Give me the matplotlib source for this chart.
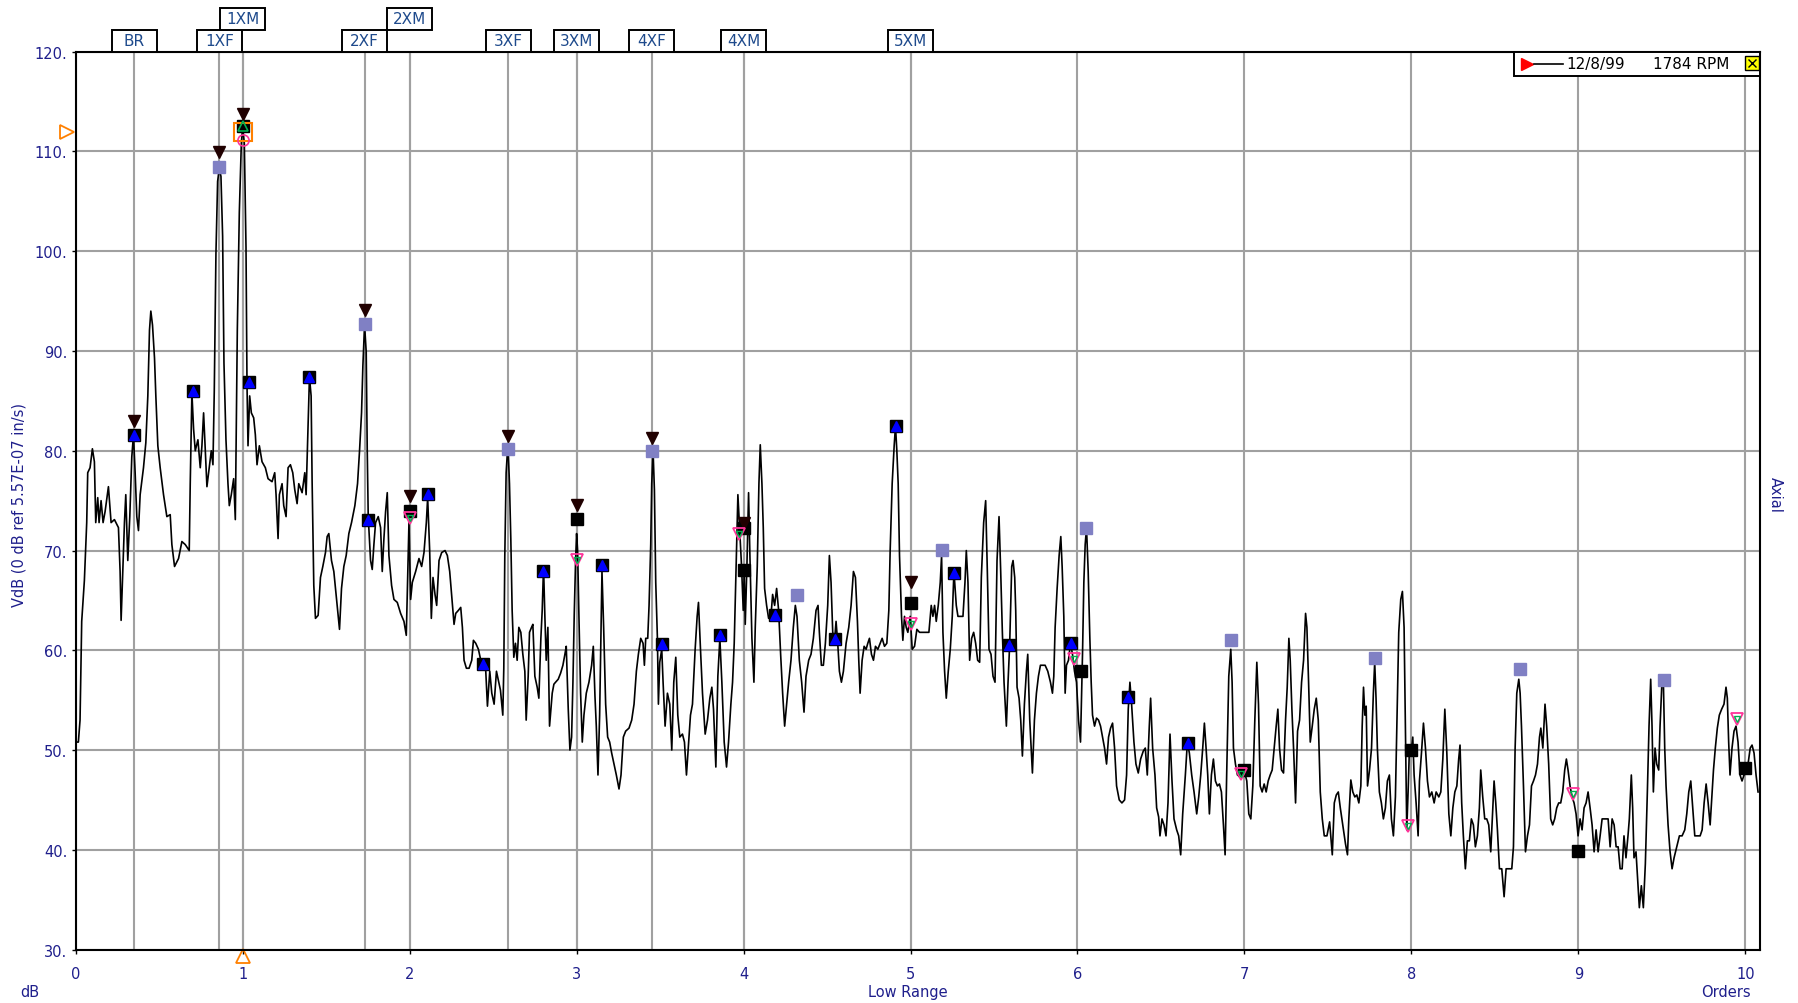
import matplotlib.pyplot as plt
import matplotlib.transforms as mtransforms
from matplotlib.patches import Rectangle

plt.rcParams['font.family'] = ['DejaVu Sans']

# spectrum trace (order, VdB) in four pieces
seg_a = [(0.000, 50.8), (0.016, 50.8), (0.026, 53.0), (0.036, 62.9), (0.052, 67.0), (0.066, 72.8), (0.072, 77.8),
         (0.086, 78.3), (0.100, 80.2), (0.112, 78.9), (0.120, 72.8), (0.132, 75.3), (0.140, 72.8), (0.152, 75.0),
         (0.164, 72.8), (0.176, 73.9), (0.196, 76.4), (0.212, 72.8), (0.232, 73.1), (0.256, 72.3), (0.266, 67.9),
         (0.272, 63.0), (0.282, 67.9), (0.292, 72.8), (0.300, 75.6), (0.312, 69.0), (0.324, 73.4), (0.336, 79.4),
         (0.346, 81.6), (0.356, 77.8), (0.366, 73.4), (0.376, 72.0), (0.386, 75.6), (0.406, 78.3), (0.420, 80.8),
         (0.432, 85.5), (0.442, 92.1), (0.450, 94.0), (0.460, 92.6), (0.472, 89.3), (0.480, 85.5), (0.492, 80.5),
         (0.506, 78.3), (0.526, 75.6), (0.546, 73.4), (0.566, 73.6), (0.576, 70.6), (0.592, 68.4), (0.616, 69.2),
         (0.636, 70.9), (0.656, 70.6), (0.680, 70.0), (0.686, 76.7), (0.696, 85.8), (0.706, 82.2), (0.716, 80.0),
         (0.732, 81.1), (0.746, 78.3), (0.756, 80.5), (0.766, 83.8), (0.776, 80.0), (0.786, 76.4), (0.800, 78.3),
         (0.812, 80.0), (0.822, 78.6), (0.830, 86.0), (0.840, 99.8), (0.850, 107.0), (0.860, 108.3), (0.870, 107.5),
         (0.880, 101.5), (0.888, 88.8), (0.900, 81.1), (0.912, 76.7), (0.920, 74.5), (0.932, 75.6), (0.946, 77.2),
         (0.956, 73.1), (0.968, 92.1), (0.980, 103.9), (0.992, 110.8), (1.000, 112.5), (1.010, 110.8), (1.020, 100.4),
         (1.026, 86.6), (1.032, 80.5), (1.042, 85.5), (1.052, 83.8), (1.066, 83.3), (1.076, 81.6), (1.086, 78.6),
         (1.100, 80.5), (1.116, 78.9), (1.136, 78.3), (1.152, 77.2), (1.176, 76.9), (1.192, 77.8), (1.200, 75.6),
         (1.212, 71.2), (1.220, 75.6), (1.236, 76.7), (1.246, 74.5), (1.260, 73.4), (1.272, 78.3), (1.286, 78.6),
         (1.300, 77.8), (1.312, 76.1), (1.326, 74.7), (1.336, 76.7), (1.356, 75.8), (1.372, 77.8), (1.380, 75.6),
         (1.392, 82.7), (1.400, 87.4), (1.410, 85.5), (1.416, 76.9), (1.426, 66.5), (1.436, 63.2), (1.452, 63.5),
         (1.466, 67.3), (1.480, 68.4), (1.496, 69.8), (1.506, 71.4), (1.516, 71.7), (1.532, 69.0), (1.546, 67.9),
         (1.566, 64.5), (1.580, 62.1), (1.592, 66.2), (1.606, 68.4), (1.620, 69.5), (1.636, 71.7), (1.652, 72.8),
         (1.672, 74.5), (1.688, 76.7), (1.700, 80.0), (1.712, 83.8), (1.720, 88.5), (1.730, 92.6), (1.740, 89.9),
         (1.746, 80.2), (1.752, 73.4), (1.766, 69.0), (1.776, 68.1), (1.786, 70.6), (1.796, 72.8), (1.812, 73.4),
         (1.826, 72.3), (1.836, 67.9), (1.846, 71.2), (1.856, 73.9), (1.866, 75.8), (1.876, 69.5), (1.892, 66.5),
         (1.906, 65.1), (1.926, 64.8), (1.946, 63.7), (1.966, 62.9), (1.980, 61.5), (1.988, 67.0), (1.996, 72.8),
         (2.006, 65.1), (2.016, 66.8), (2.036, 67.9), (2.056, 69.2), (2.072, 68.4), (2.086, 69.8), (2.100, 72.8),
         (2.108, 75.3), (2.120, 70.0), (2.130, 63.2), (2.140, 67.3), (2.152, 65.6), (2.162, 64.5), (2.176, 69.0),
         (2.192, 69.8), (2.212, 70.0), (2.226, 69.5), (2.240, 67.9), (2.252, 65.4), (2.266, 62.6), (2.276, 63.7),
         (2.292, 64.0), (2.306, 64.3), (2.316, 62.3), (2.326, 59.0), (2.340, 58.2), (2.356, 58.2), (2.372, 59.0),
         (2.382, 61.0), (2.396, 60.7), (2.412, 60.1), (2.426, 59.0), (2.442, 58.8), (2.456, 57.9), (2.466, 54.4),
         (2.480, 57.9), (2.492, 55.7), (2.506, 54.6), (2.520, 57.9)]

seg_b = [(2.544, 56.0), (2.558, 53.5), (2.564, 58.2), (2.570, 69.5), (2.578, 77.8), (2.586, 80.0), (2.590, 80.2),
         (2.598, 76.7), (2.606, 71.2), (2.614, 64.0), (2.624, 59.3), (2.634, 60.7), (2.644, 59.0), (2.654, 62.3),
         (2.666, 61.8), (2.678, 59.6), (2.690, 57.9), (2.698, 53.0), (2.710, 57.4), (2.718, 61.8), (2.730, 62.3),
         (2.738, 62.6), (2.750, 57.4), (2.764, 56.3), (2.774, 55.2), (2.786, 61.2), (2.794, 64.0), (2.802, 68.4),
         (2.810, 63.4), (2.818, 59.0), (2.828, 62.3), (2.838, 52.4), (2.846, 54.1), (2.854, 55.7), (2.864, 56.6),
         (2.874, 56.8), (2.890, 57.1), (2.904, 57.7), (2.918, 58.5), (2.930, 59.6), (2.938, 60.4), (2.950, 54.1),
         (2.960, 50.0), (2.970, 51.3), (2.978, 56.8), (2.986, 63.7), (2.994, 69.0), (3.000, 71.7), (3.006, 70.0),
         (3.014, 63.4), (3.024, 55.7), (3.034, 50.8), (3.044, 53.5), (3.058, 55.7), (3.074, 56.8), (3.090, 58.5),
         (3.100, 60.4), (3.110, 55.4), (3.118, 52.4), (3.128, 47.5), (3.138, 53.5), (3.146, 61.8), (3.152, 67.9),
         (3.162, 62.3), (3.174, 54.6), (3.186, 51.3), (3.198, 50.8), (3.210, 49.7), (3.224, 48.6), (3.238, 47.5),
         (3.254, 46.1), (3.266, 47.5), (3.280, 51.3), (3.294, 51.9), (3.314, 52.2), (3.330, 53.0), (3.344, 54.6),
         (3.358, 57.9), (3.370, 59.6), (3.384, 61.2), (3.398, 60.7), (3.406, 58.5), (3.414, 61.2), (3.426, 61.2),
         (3.434, 64.5), (3.444, 70.6), (3.450, 76.7), (3.458, 80.0), (3.466, 76.1), (3.474, 66.8), (3.484, 61.2),
         (3.490, 54.6), (3.498, 58.8), (3.510, 60.1), (3.518, 56.8), (3.530, 52.4), (3.544, 55.7), (3.558, 54.6),
         (3.570, 50.0), (3.582, 56.8), (3.594, 59.3), (3.606, 53.5), (3.618, 51.3), (3.634, 51.6), (3.646, 50.8),
         (3.658, 47.5), (3.670, 50.5), (3.682, 53.5), (3.694, 54.6), (3.710, 60.1), (3.722, 63.4), (3.730, 64.8),
         (3.742, 60.1), (3.754, 55.7), (3.770, 51.6), (3.784, 53.0), (3.798, 55.2), (3.810, 56.3), (3.820, 54.1),
         (3.834, 48.3), (3.846, 57.4), (3.858, 61.2), (3.870, 56.8), (3.884, 50.8), (3.898, 48.3), (3.910, 50.8),
         (3.924, 54.6), (3.934, 56.8), (3.944, 60.7), (3.954, 67.3), (3.966, 75.6), (3.978, 71.7), (3.988, 68.4),
         (3.998, 64.0), (4.004, 67.9), (4.010, 62.6), (4.020, 68.4), (4.030, 75.8), (4.038, 69.5), (4.050, 61.2),
         (4.062, 56.8), (4.070, 62.3), (4.082, 68.4), (4.092, 76.7), (4.100, 80.6), (4.110, 76.7), (4.118, 72.3),
         (4.126, 66.2), (4.138, 64.5), (4.150, 63.2), (4.164, 63.4), (4.174, 65.6), (4.186, 64.5), (4.198, 66.2),
         (4.210, 64.0), (4.222, 59.6), (4.234, 55.7), (4.246, 52.4), (4.258, 54.6), (4.270, 56.8), (4.284, 59.0),
         (4.298, 62.3), (4.310, 64.5), (4.320, 63.4), (4.334, 59.0), (4.348, 56.8), (4.362, 53.8), (4.374, 57.4),
         (4.390, 59.0), (4.404, 59.6), (4.418, 61.2), (4.434, 64.0), (4.446, 64.5), (4.454, 61.8), (4.466, 58.5),
         (4.478, 58.5), (4.490, 60.7), (4.504, 64.5), (4.514, 69.5), (4.524, 66.8), (4.534, 61.8), (4.546, 61.2),
         (4.554, 62.9), (4.564, 60.7), (4.574, 57.9), (4.586, 56.8), (4.598, 57.9), (4.614, 60.7), (4.630, 62.3),
         (4.644, 64.5), (4.658, 67.9), (4.670, 67.3), (4.682, 62.9), (4.690, 59.0), (4.698, 55.7), (4.710, 59.0),
         (4.722, 60.4), (4.734, 60.1), (4.744, 60.7), (4.754, 61.2), (4.766, 59.6), (4.778, 59.0), (4.790, 60.4),
         (4.804, 60.1), (4.818, 60.7), (4.830, 61.2), (4.844, 60.4), (4.858, 60.7), (4.870, 64.0), (4.878, 70.0),
         (4.890, 76.7), (4.902, 80.5), (4.910, 82.5), (4.918, 80.0), (4.926, 76.7), (4.934, 69.5), (4.946, 63.4),
         (4.954, 61.0), (4.964, 63.4), (4.974, 62.3), (4.984, 61.8), (4.998, 63.4), (5.010, 60.1), (5.024, 60.4),
         (5.038, 62.1), (5.054, 61.8)]

seg_c = [(5.110, 61.8), (5.124, 64.5), (5.134, 63.4), (5.144, 64.5), (5.154, 62.9), (5.166, 64.5), (5.178, 66.8),
         (5.186, 69.5), (5.194, 61.8), (5.204, 57.9), (5.214, 55.2), (5.226, 57.9), (5.238, 60.1), (5.250, 63.4),
         (5.260, 67.9), (5.274, 64.5), (5.284, 63.4), (5.298, 63.4), (5.314, 63.4), (5.326, 66.8), (5.334, 70.0),
         (5.344, 66.8), (5.354, 59.0), (5.366, 61.2), (5.378, 61.8), (5.390, 60.7), (5.402, 59.0), (5.414, 58.8),
         (5.424, 67.3), (5.438, 72.8), (5.450, 75.0), (5.460, 67.9), (5.470, 60.1), (5.482, 59.6), (5.494, 57.4),
         (5.506, 56.8), (5.518, 69.0), (5.530, 73.4), (5.540, 67.9), (5.550, 61.8), (5.560, 56.8), (5.574, 52.4),
         (5.584, 56.8), (5.594, 60.7), (5.606, 68.4), (5.614, 69.0), (5.624, 67.3), (5.630, 64.0), (5.638, 56.3),
         (5.650, 55.2), (5.660, 53.0), (5.670, 49.4), (5.682, 54.6), (5.694, 57.9), (5.702, 59.6), (5.714, 53.0),
         (5.730, 47.7), (5.742, 53.0), (5.754, 55.7), (5.766, 57.4), (5.778, 58.5), (5.790, 58.5), (5.806, 58.5),
         (5.822, 57.9), (5.838, 56.8), (5.850, 55.7), (5.858, 57.4), (5.866, 62.3), (5.878, 66.2), (5.890, 69.5),
         (5.900, 71.4), (5.908, 68.4), (5.918, 63.4), (5.926, 55.7), (5.934, 58.5), (5.946, 59.0), (5.958, 60.7),
         (5.970, 59.6), (5.982, 57.9), (5.994, 56.8), (6.006, 53.0), (6.018, 50.8), (6.030, 59.6), (6.038, 66.8),
         (6.046, 70.6), (6.054, 72.3), (6.064, 67.9), (6.074, 61.2), (6.082, 56.8), (6.090, 53.5), (6.102, 52.4),
         (6.114, 53.2), (6.126, 53.0), (6.138, 52.4), (6.150, 51.3), (6.162, 50.2), (6.174, 48.6), (6.186, 51.3),
         (6.198, 52.2), (6.210, 52.7), (6.222, 50.2), (6.234, 46.4), (6.250, 45.0), (6.266, 44.7), (6.282, 45.0),
         (6.294, 47.5), (6.304, 54.1), (6.314, 56.8), (6.324, 54.6), (6.338, 50.8), (6.350, 48.6), (6.364, 47.7),
         (6.378, 49.1), (6.394, 49.9), (6.406, 50.2), (6.418, 47.5), (6.430, 52.4), (6.438, 55.2), (6.450, 50.2),
         (6.464, 47.5), (6.474, 44.2), (6.486, 43.3), (6.494, 41.4), (6.506, 43.1), (6.518, 42.5), (6.530, 41.4),
         (6.542, 44.7), (6.554, 51.6), (6.566, 46.9), (6.578, 43.1), (6.594, 42.0), (6.606, 41.4), (6.618, 39.5),
         (6.630, 43.6), (6.646, 47.5), (6.658, 50.8), (6.670, 49.7), (6.684, 47.5), (6.698, 45.8), (6.714, 43.6),
         (6.726, 45.3), (6.738, 47.5), (6.750, 50.2), (6.760, 52.7), (6.770, 50.2), (6.780, 47.5), (6.790, 43.6),
         (6.802, 47.5), (6.814, 49.1), (6.826, 46.9), (6.838, 46.4), (6.850, 46.6), (6.862, 45.8), (6.874, 42.5),
         (6.884, 39.5), (6.894, 48.0), (6.906, 57.4), (6.918, 60.1), (6.926, 56.8), (6.934, 50.2), (6.946, 48.6),
         (6.958, 47.5), (6.970, 47.5), (6.984, 47.5), (6.998, 48.0), (7.014, 46.9), (7.026, 43.6), (7.038, 43.1),
         (7.050, 46.4), (7.062, 53.0), (7.074, 58.8), (7.084, 54.6), (7.094, 46.4), (7.106, 45.8), (7.118, 46.6),
         (7.130, 45.8), (7.142, 46.9), (7.154, 47.5), (7.166, 48.0), (7.178, 50.2), (7.190, 52.4), (7.200, 54.1),
         (7.210, 50.2), (7.222, 48.0), (7.234, 47.7), (7.246, 53.0), (7.256, 56.3), (7.266, 61.2), (7.274, 59.0),
         (7.284, 54.1), (7.294, 50.2), (7.306, 44.7), (7.318, 51.9), (7.330, 53.0), (7.342, 56.8), (7.354, 59.0),
         (7.366, 63.7), (7.374, 62.3), (7.384, 56.8), (7.394, 50.8), (7.406, 52.4), (7.418, 54.1), (7.430, 55.2),
         (7.442, 53.0), (7.454, 45.8), (7.466, 43.1), (7.478, 41.4), (7.494, 41.4), (7.510, 42.8), (7.526, 39.5),
         (7.538, 44.7), (7.550, 45.5), (7.562, 45.8), (7.574, 44.2)]

seg_d = [(7.593, 42.0), (7.605, 40.6), (7.617, 39.5), (7.625, 43.1), (7.637, 47.0), (7.649, 45.8), (7.661, 45.3),
         (7.673, 45.5), (7.685, 44.7), (7.697, 46.4), (7.705, 52.4), (7.713, 56.3), (7.721, 53.5), (7.729, 54.4),
         (7.737, 46.4), (7.749, 48.0), (7.761, 50.2), (7.772, 55.7), (7.780, 58.8), (7.788, 55.2), (7.796, 50.2),
         (7.808, 45.8), (7.820, 44.7), (7.832, 43.1), (7.844, 44.2), (7.856, 46.9), (7.868, 47.5), (7.880, 43.1),
         (7.892, 41.4), (7.904, 45.3), (7.912, 51.9), (7.924, 61.8), (7.936, 65.1), (7.946, 65.9), (7.956, 62.3),
         (7.964, 52.4), (7.972, 42.0), (7.980, 45.8), (7.988, 50.2), (8.000, 50.0), (8.008, 51.3), (8.016, 47.5),
         (8.028, 44.7), (8.040, 41.4), (8.048, 46.9), (8.060, 49.7), (8.072, 52.7), (8.084, 50.2), (8.096, 46.9),
         (8.108, 45.3), (8.122, 45.8), (8.136, 44.7), (8.148, 45.8), (8.164, 45.3), (8.176, 45.8), (8.188, 49.1),
         (8.200, 54.1), (8.212, 49.7), (8.224, 43.6), (8.236, 41.4), (8.248, 44.2), (8.260, 45.8), (8.272, 46.4),
         (8.283, 49.1), (8.291, 50.5), (8.301, 44.7), (8.311, 41.4), (8.323, 38.1), (8.335, 40.9), (8.347, 40.9),
         (8.359, 43.1), (8.371, 42.5), (8.383, 40.3), (8.395, 41.4), (8.407, 44.2), (8.415, 48.0), (8.427, 45.3),
         (8.439, 43.1), (8.451, 43.1), (8.463, 42.5), (8.475, 39.8), (8.487, 44.2), (8.495, 46.9), (8.505, 44.7),
         (8.515, 42.0), (8.527, 38.1), (8.541, 38.1), (8.555, 35.3), (8.567, 38.1), (8.581, 38.1), (8.601, 38.1),
         (8.611, 40.3), (8.621, 50.2), (8.631, 55.7), (8.643, 57.1), (8.651, 55.7), (8.659, 52.4), (8.671, 46.4),
         (8.683, 39.8), (8.695, 41.4), (8.707, 42.5), (8.719, 46.4), (8.731, 46.9), (8.743, 47.5), (8.755, 48.6),
         (8.767, 51.3), (8.775, 52.2), (8.787, 50.2), (8.800, 54.6), (8.810, 52.4), (8.822, 48.6), (8.834, 43.1),
         (8.846, 42.5), (8.858, 43.1), (8.870, 44.2), (8.882, 44.7), (8.894, 44.7), (8.906, 45.8), (8.918, 48.0),
         (8.928, 49.1), (8.938, 48.0), (8.950, 46.4), (8.962, 45.3), (8.974, 44.7), (8.986, 43.6), (8.998, 41.4),
         (9.010, 43.1), (9.022, 42.0), (9.034, 44.2), (9.046, 44.7), (9.058, 45.8), (9.070, 44.2), (9.082, 42.5),
         (9.094, 39.8), (9.106, 42.0), (9.118, 39.8), (9.130, 41.4), (9.142, 43.1), (9.154, 43.1), (9.166, 43.1),
         (9.178, 43.1), (9.190, 40.3), (9.202, 43.1), (9.214, 42.5), (9.226, 40.3), (9.238, 40.3), (9.250, 38.1),
         (9.262, 38.1), (9.273, 41.4), (9.285, 39.2), (9.297, 41.4), (9.305, 43.1), (9.317, 47.5), (9.325, 44.2),
         (9.333, 39.2), (9.345, 39.8), (9.357, 36.4), (9.365, 34.2), (9.377, 36.4), (9.389, 34.2), (9.401, 38.6),
         (9.413, 45.8), (9.423, 52.4), (9.433, 57.1), (9.441, 52.4), (9.449, 45.8), (9.459, 50.2), (9.469, 48.6),
         (9.481, 48.0), (9.489, 52.4), (9.499, 56.3), (9.509, 56.8), (9.517, 50.2), (9.525, 46.4), (9.537, 42.5),
         (9.549, 39.8), (9.561, 38.1), (9.573, 39.2), (9.589, 40.3), (9.605, 41.4), (9.621, 41.4), (9.637, 42.0),
         (9.649, 43.6), (9.661, 45.8), (9.673, 46.9), (9.685, 44.2), (9.697, 41.4), (9.713, 41.4), (9.729, 41.4),
         (9.741, 42.0), (9.753, 44.7), (9.765, 46.6), (9.777, 44.7), (9.789, 42.5), (9.801, 45.8), (9.809, 48.0),
         (9.820, 50.2), (9.832, 52.2), (9.844, 53.5), (9.858, 54.1), (9.872, 54.6), (9.884, 56.3), (9.892, 55.2),
         (9.900, 50.8), (9.908, 47.5), (9.920, 50.2), (9.932, 51.9), (9.944, 52.4), (9.956, 50.8), (9.968, 47.5),
         (9.980, 46.9), (9.992, 47.5), (10.004, 47.7), (10.016, 48.6), (10.029, 50.2), (10.040, 50.5),
         (10.052, 49.7), (10.064, 47.5), (10.076, 45.8)]

# fault frequency labels along the top
fault_labels = ['BR', '1XF', '1XM', '2XF', '2XM', '3XF', '3XM', '4XF', '4XM', '5XM']
fault_orders = [0.35, 0.86, 1.0, 1.73, 2.0, 2.59, 3.0, 3.45, 4.0, 5.0]
fault_rows = [0, 0, 1, 0, 1, 0, 0, 0, 0, 0]

# peak markers
blue_x = [0.35, 0.70, 1.04, 1.40, 1.75, 2.11, 2.44, 2.80, 3.15, 3.51, 3.86, 4.19, 4.55, 4.91, 5.26, 5.59, 5.96, 6.30, 6.66]
blue_y = [81.6, 86.0, 86.9, 87.4, 73.1, 75.7, 58.6, 67.9, 68.5, 60.6, 61.5, 63.5, 61.1, 82.5, 67.7, 60.5, 60.7, 55.3, 50.7]
lav_x = [0.86, 1.73, 2.59, 3.45, 4.32, 5.19, 6.05, 6.92, 7.78, 8.65, 9.51]
lav_y = [108.4, 92.7, 80.2, 80.0, 65.5, 70.1, 72.3, 61.0, 59.2, 58.1, 57.0]
tri_x = [0.35, 0.86, 1.0, 1.73, 2.0, 2.59, 3.0, 3.45, 4.0, 5.0]
tri_y = [83.0, 109.9, 113.8, 94.1, 75.5, 81.5, 74.6, 81.3, 72.8, 66.8]
blk_x = [1.0, 2.0, 3.0, 4.0, 4.0, 5.0, 6.02, 7.0, 8.0, 9.0, 10.0]
blk_y = [112.6, 74.0, 73.2, 72.3, 68.0, 64.7, 57.9, 48.0, 50.0, 39.9, 48.2]
pink_x = [2.0, 3.0, 3.97, 5.0, 5.98, 6.98, 7.98, 8.97, 9.95]
pink_y = [73.3, 69.1, 71.7, 62.6, 59.1, 47.6, 42.4, 45.6, 53.1]
ref_order, ref_level = 1.0, 112.0

navy = '#1f1f8c'
box_blue = '#1e4a8c'

fig = plt.figure(figsize=(17.98, 10.04), dpi=100)
ax = fig.add_axes([0.0421, 0.0532, 0.9368, 0.8943])

trace = seg_a + seg_b + seg_c + seg_d
ax.plot([p[0] for p in trace], [p[1] for p in trace], color='black', lw=1.2, zorder=3)

ax.set_xlim(0, 10.088)
ax.set_ylim(30, 120)
ax.set_xticks(range(11))
ax.set_xticklabels([str(v) for v in range(11)])
ax.set_yticks(range(30, 121, 10))
ax.set_yticklabels([f'{v}.' for v in range(30, 121, 10)])
ax.tick_params(axis='both', direction='out', length=3, width=1, color='black',
               labelcolor=navy, labelsize=10.5)
ax.tick_params(axis='x', pad=9)
ax.tick_params(axis='y', pad=3)
ax.grid(True, color='#a0a0a0', lw=1.5, zorder=0)
for o in fault_orders:
    ax.axvline(o, color='#a0a0a0', lw=1.5, zorder=0)
for sp in ax.spines.values():
    sp.set_color('black')
    sp.set_linewidth(1.5)

# markers
ax.plot(lav_x, lav_y, 's', ms=9, color='#8080c4', mec='#8080c4', zorder=5)
ax.plot(blue_x, blue_y, 's', ms=9, color='black', zorder=5)
ax.plot(blue_x, blue_y, '^', ms=7, color='#0000ff', mec='#0000ff', zorder=6)
ax.plot(blk_x, blk_y, 's', ms=8, color='black', zorder=5)
ax.plot(tri_x, tri_y, 'v', ms=8, color='#200000', zorder=6)
ax.plot(pink_x, pink_y, 'v', ms=8, mfc='none', mec='#ff3399', mew=1.3, zorder=6)
ax.plot(pink_x, pink_y, 'v', ms=4, mfc='none', mec='#00b050', mew=1, zorder=7)
ax.plot([ref_order], [ref_level], 's', ms=13, mfc='none', mec='#ff8000', mew=1.5, zorder=7)
ax.plot([ref_order], [ref_level - 0.8], 'o', ms=8, mfc='none', mec='#ff3399', mew=1.2, zorder=7)
ax.plot([ref_order], [ref_level + 0.6], '^', ms=7, mfc='none', mec='#00b050', mew=1.2, zorder=8)

# orange reference cursors on the axes
tr_y = mtransforms.blended_transform_factory(ax.transAxes, ax.transData)
ax.plot([-0.005], [ref_level], '>', ms=10, mfc='none', mec='#ff8000', mew=1.3,
        transform=tr_y, clip_on=False)
tr_x = mtransforms.blended_transform_factory(ax.transData, ax.transAxes)
ax.plot([ref_order], [-0.007], '^', ms=10, mfc='none', mec='#ff8000', mew=1.3,
        transform=tr_x, clip_on=False)

# fault label boxes
box_w, box_h = 0.27, 0.0245
for lab, o, row in zip(fault_labels, fault_orders, fault_rows):
    y0 = 1.0 + row * box_h
    ax.add_patch(Rectangle((o - box_w / 2, y0), box_w, box_h, transform=tr_x,
                           fc='white', ec='black', lw=1.4, clip_on=False, zorder=10))
    ax.text(o, y0 + box_h / 2, lab, transform=tr_x, ha='center', va='center',
            fontsize=11, color=box_blue, zorder=11, clip_on=False)

# legend box in upper right
ax.add_patch(Rectangle((0.854, 0.973), 0.146, 0.027, transform=ax.transAxes,
                       fc='white', ec='black', lw=1.4, zorder=10))
ax.plot([0.8617], [0.9865], '>', ms=9, color='red', transform=ax.transAxes, zorder=11)
ax.plot([0.866, 0.883], [0.9865, 0.9865], color='black', lw=1.2, transform=ax.transAxes, zorder=11)
ax.text(0.885, 0.9865, '12/8/99', transform=ax.transAxes, ha='left', va='center',
        fontsize=11, color='black', zorder=11)
ax.text(0.9365, 0.9865, '1784 RPM', transform=ax.transAxes, ha='left', va='center',
        fontsize=11, color='black', zorder=11)
ax.plot([0.9955], [0.9875], 's', ms=10, mfc='#ffff00', mec='black', mew=1,
        transform=ax.transAxes, zorder=11, clip_on=False)
ax.plot([0.9955], [0.9875], 'x', ms=6, color='black', mew=1,
        transform=ax.transAxes, zorder=12, clip_on=False)

# axis annotations
fig.text(19.5 / 1798, 1 - 505 / 1004, 'VdB (0 dB ref 5.57E-07 in/s)', rotation=90,
         ha='center', va='center', fontsize=10.5, color=navy)
fig.text(1775 / 1798, 1 - 495 / 1004, 'Axial', rotation=270,
         ha='center', va='center', fontsize=10.5, color=navy)
fig.text(30 / 1798, 1 - 993 / 1004, 'dB', ha='center', va='center', fontsize=10.5, color=navy)
fig.text(908 / 1798, 1 - 993 / 1004, 'Low Range', ha='center', va='center', fontsize=10.5, color=navy)
fig.text(1726 / 1798, 1 - 993 / 1004, 'Orders', ha='center', va='center', fontsize=10.5, color=navy)

fig.savefig('out.png', dpi=100)
